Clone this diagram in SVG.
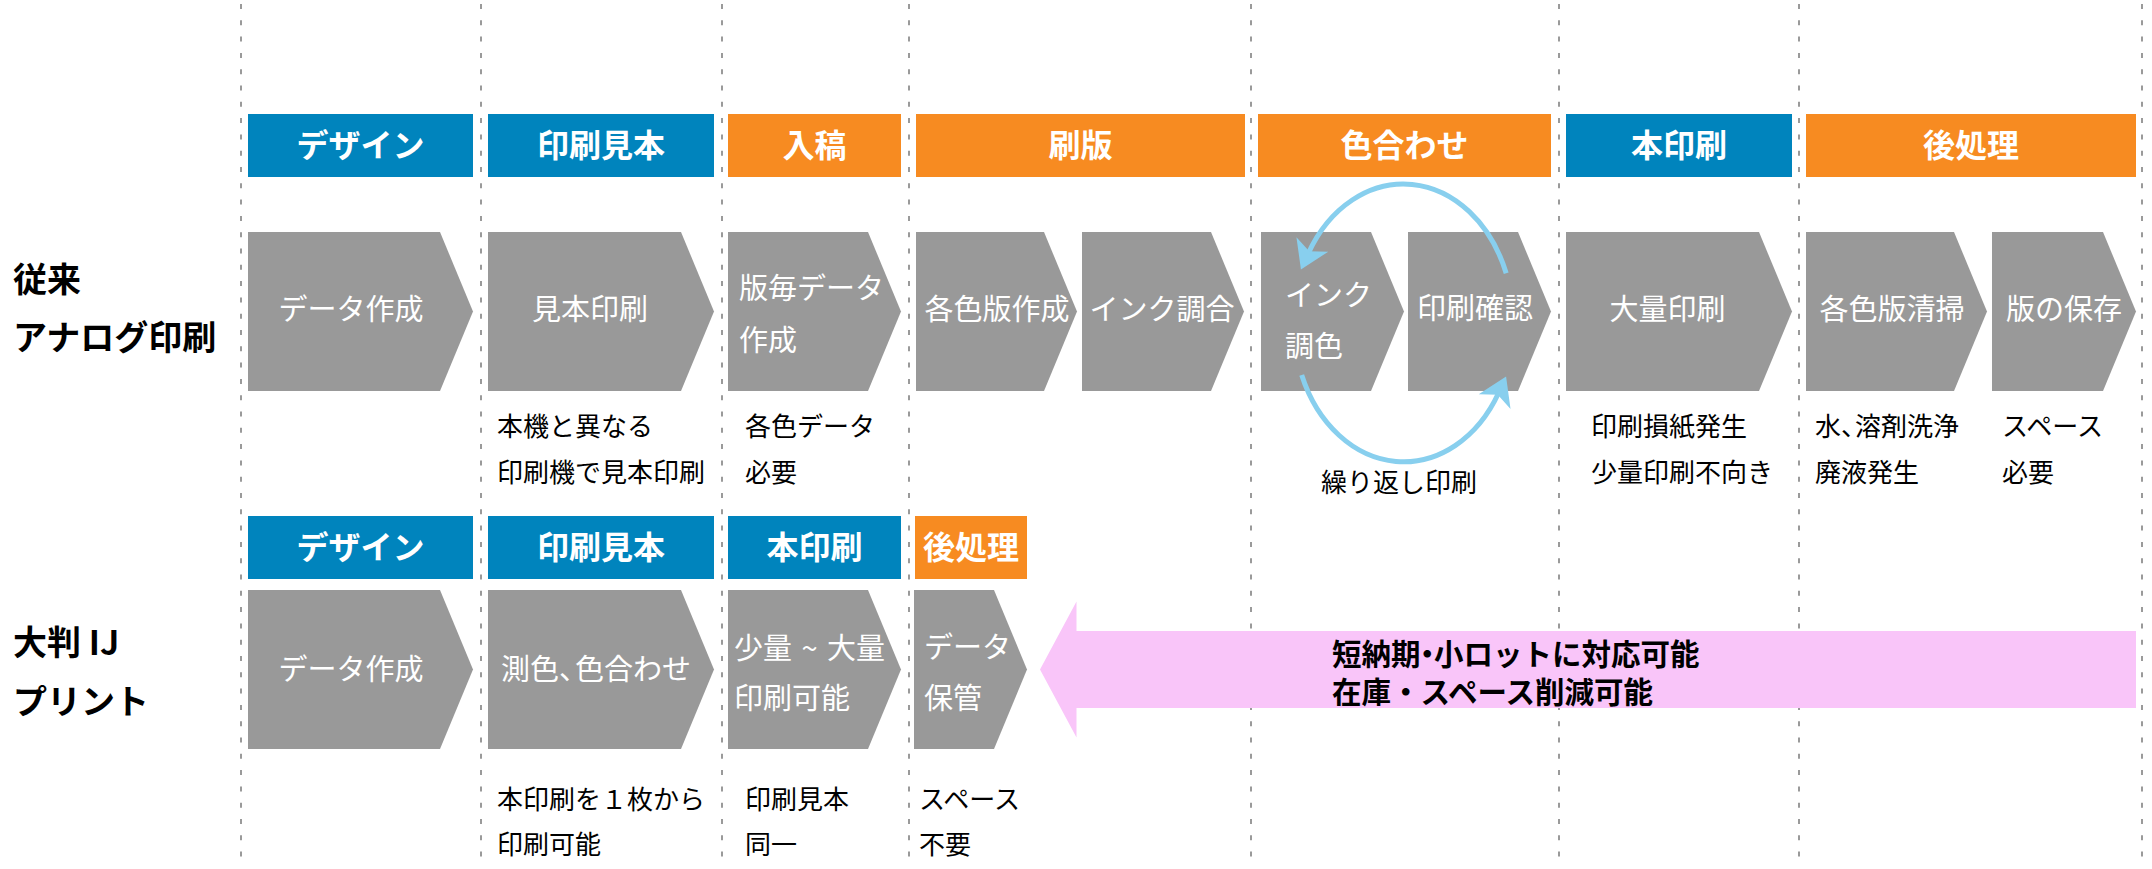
<svg xmlns="http://www.w3.org/2000/svg" width="2152" height="869" viewBox="0 0 2152 869">
<style>
text{font-family:"Noto Sans CJK JP","Noto Sans",sans-serif}
.grid line{stroke:#9a9a9a;stroke-width:2;stroke-dasharray:5 11.3}
.hb{fill:#0084bd}
.ho{fill:#f78b21}
.ht{fill:#fff;font-size:32px;font-weight:bold;text-anchor:middle}
.chev{fill:#999}
.ct{fill:#fff;font-size:29px}
.cm{text-anchor:middle}
.lb{fill:#000;font-size:26px}
.side{fill:#000;font-size:34px;font-weight:bold}
.pk{fill:#000;font-size:29.5px;font-weight:bold}
.arc{fill:none;stroke:#88cfee;stroke-width:5}
</style>
<defs>
<marker id="ah" markerUnits="userSpaceOnUse" markerWidth="40" markerHeight="40" viewBox="-2 -16 30 32" refX="8" refY="0" orient="auto">
<path d="M0,-14 L22,0 L0,14 L6,0 Z" fill="#88cfee"/>
</marker>
</defs>
<rect width="2152" height="869" fill="#fff"/>
<g class="grid" id="grid">
<line x1="241" y1="4" x2="241" y2="862"/>
<line x1="481" y1="4" x2="481" y2="862"/>
<line x1="722" y1="4" x2="722" y2="862"/>
<line x1="909" y1="4" x2="909" y2="862"/>
<line x1="1251" y1="4" x2="1251" y2="862"/>
<line x1="1559" y1="4" x2="1559" y2="862"/>
<line x1="1799" y1="4" x2="1799" y2="862"/>
<line x1="2142" y1="4" x2="2142" y2="862"/>
</g>
<g id="side-labels">
<text class="side" x="13" y="292">従来</text>
<text class="side" x="13" y="350">アナログ印刷</text>
<text class="side" x="13" y="655">大判 IJ</text>
<text class="side" x="13" y="714">プリント</text>
</g>
<g id="headers-row1">
<g id="h1-design"><rect class="hb" x="248" y="114" width="225" height="63"/><text class="ht" x="360.5" y="157">デザイン</text></g>
<g id="h1-sample"><rect class="hb" x="488" y="114" width="226" height="63"/><text class="ht" x="601" y="157">印刷見本</text></g>
<g id="h1-nyuko"><rect class="ho" x="728" y="114" width="173" height="63"/><text class="ht" x="814.5" y="157">入稿</text></g>
<g id="h1-sappan"><rect class="ho" x="916" y="114" width="329" height="63"/><text class="ht" x="1080.5" y="157">刷版</text></g>
<g id="h1-color"><rect class="ho" x="1258" y="114" width="293" height="63"/><text class="ht" x="1404.5" y="157">色合わせ</text></g>
<g id="h1-print"><rect class="hb" x="1566" y="114" width="226" height="63"/><text class="ht" x="1679" y="157">本印刷</text></g>
<g id="h1-post"><rect class="ho" x="1806" y="114" width="330" height="63"/><text class="ht" x="1971" y="157">後処理</text></g>
</g>
<g id="chevrons-row1">
<g id="c1-data"><path class="chev" d="M248,232H440L473,311.5L440,391H248Z"/><text class="ct cm" x="351" y="320">データ作成</text></g>
<g id="c1-sample"><path class="chev" d="M488,232H681L714,311.5L681,391H488Z"/><text class="ct cm" x="590" y="320">見本印刷</text></g>
<g id="c1-plate-data"><path class="chev" d="M728,232H868L901,311.5L868,391H728Z"/><text class="ct" x="739" y="299">版毎データ</text><text class="ct" x="739" y="350.5">作成</text></g>
<g id="c1-plates"><path class="chev" d="M916,232H1044L1077,311.5L1044,391H916Z"/><text class="ct cm" x="997" y="320">各色版作成</text></g>
<g id="c1-ink-mix"><path class="chev" d="M1082,232H1211L1244,311.5L1211,391H1082Z"/><text class="ct cm" x="1162" y="320">インク調合</text></g>
<g id="c1-ink-tone"><path class="chev" d="M1261,232H1371L1404,311.5L1371,391H1261Z"/><text class="ct" x="1285" y="306">インク</text><text class="ct" x="1285" y="357">調色</text></g>
<g id="c1-check"><path class="chev" d="M1408,232H1518L1551,311.5L1518,391H1408Z"/><text class="ct" x="1417" y="319">印刷確認</text></g>
<g id="c1-mass"><path class="chev" d="M1566,232H1759L1792,311.5L1759,391H1566Z"/><text class="ct cm" x="1667.5" y="320">大量印刷</text></g>
<g id="c1-clean"><path class="chev" d="M1806,232H1954L1987,311.5L1954,391H1806Z"/><text class="ct cm" x="1892" y="320">各色版清掃</text></g>
<g id="c1-store"><path class="chev" d="M1992,232H2103L2136,311.5L2103,391H1992Z"/><text class="ct cm" x="2064" y="320">版の保存</text></g>
</g>
<g id="notes-row1">
<text class="lb" x="497" y="435.5">本機と異なる</text>
<text class="lb" x="497" y="482">印刷機で見本印刷</text>
<text class="lb" x="745" y="435.5">各色データ</text>
<text class="lb" x="745" y="482">必要</text>
<text class="lb" x="1321" y="492">繰り返し印刷</text>
<text class="lb" x="1591" y="435.5">印刷損紙発生</text>
<text class="lb" x="1591" y="482">少量印刷不向き</text>
<text class="lb" x="1815" y="435.5">水<tspan letter-spacing="-12">、</tspan>溶剤洗浄</text>
<text class="lb" x="1815" y="482">廃液発生</text>
<text class="lb" x="2002" y="435.5">スペース</text>
<text class="lb" x="2002" y="482">必要</text>
</g>
<g id="connectors">
<path class="arc" d="M1506.2,273.3 A110,139 0 0 0 1308.2,253.5" marker-end="url(#ah)"/>
<path class="arc" d="M1301.7,375 A110,139 0 0 0 1498.8,392.5" marker-end="url(#ah)"/>
</g>
<g id="headers-row2">
<g id="h2-design"><rect class="hb" x="248" y="516" width="225" height="63"/><text class="ht" x="360.5" y="559">デザイン</text></g>
<g id="h2-sample"><rect class="hb" x="488" y="516" width="226" height="63"/><text class="ht" x="601" y="559">印刷見本</text></g>
<g id="h2-print"><rect class="hb" x="728" y="516" width="173" height="63"/><text class="ht" x="814.5" y="559">本印刷</text></g>
<g id="h2-post"><rect class="ho" x="915" y="516" width="112" height="63"/><text class="ht" x="971" y="559">後処理</text></g>
</g>
<g id="chevrons-row2">
<g id="c2-data"><path class="chev" d="M248,590H440L473,669.5L440,749H248Z"/><text class="ct cm" x="351" y="679.5">データ作成</text></g>
<g id="c2-color"><path class="chev" d="M488,590H681L714,669.5L681,749H488Z"/><text class="ct" x="501" y="679.5">測色<tspan letter-spacing="-13">、</tspan>色合わせ</text></g>
<g id="c2-print"><path class="chev" d="M728,590H868L901,669.5L868,749H728Z"/><text class="ct" x="734" y="659" word-spacing="3">少量 ~ 大量</text><text class="ct" x="734" y="709">印刷可能</text></g>
<g id="c2-store"><path class="chev" d="M914,590H994L1027,669.5L994,749H914Z"/><text class="ct" x="924" y="658">データ</text><text class="ct" x="924" y="709">保管</text></g>
</g>
<g id="benefit-arrow">
<polygon points="1040,669.5 1076.5,601.5 1076.5,631 2136,631 2136,708 1076.5,708 1076.5,737.5" fill="#f9c5f9"/>
<text class="pk" x="1332" y="664.5">短納<tspan letter-spacing="-8">期・</tspan>小ロットに対応可能</text>
<text class="pk" x="1332" y="702.5">在庫・スペース削減可能</text>
</g>
<g id="notes-row2">
<text class="lb" x="497" y="808.5">本印刷を１枚から</text>
<text class="lb" x="497" y="853.5">印刷可能</text>
<text class="lb" x="745" y="808.5">印刷見本</text>
<text class="lb" x="745" y="853.5">同一</text>
<text class="lb" x="919" y="808.5">スペース</text>
<text class="lb" x="919" y="853.5">不要</text>
</g>
</svg>
